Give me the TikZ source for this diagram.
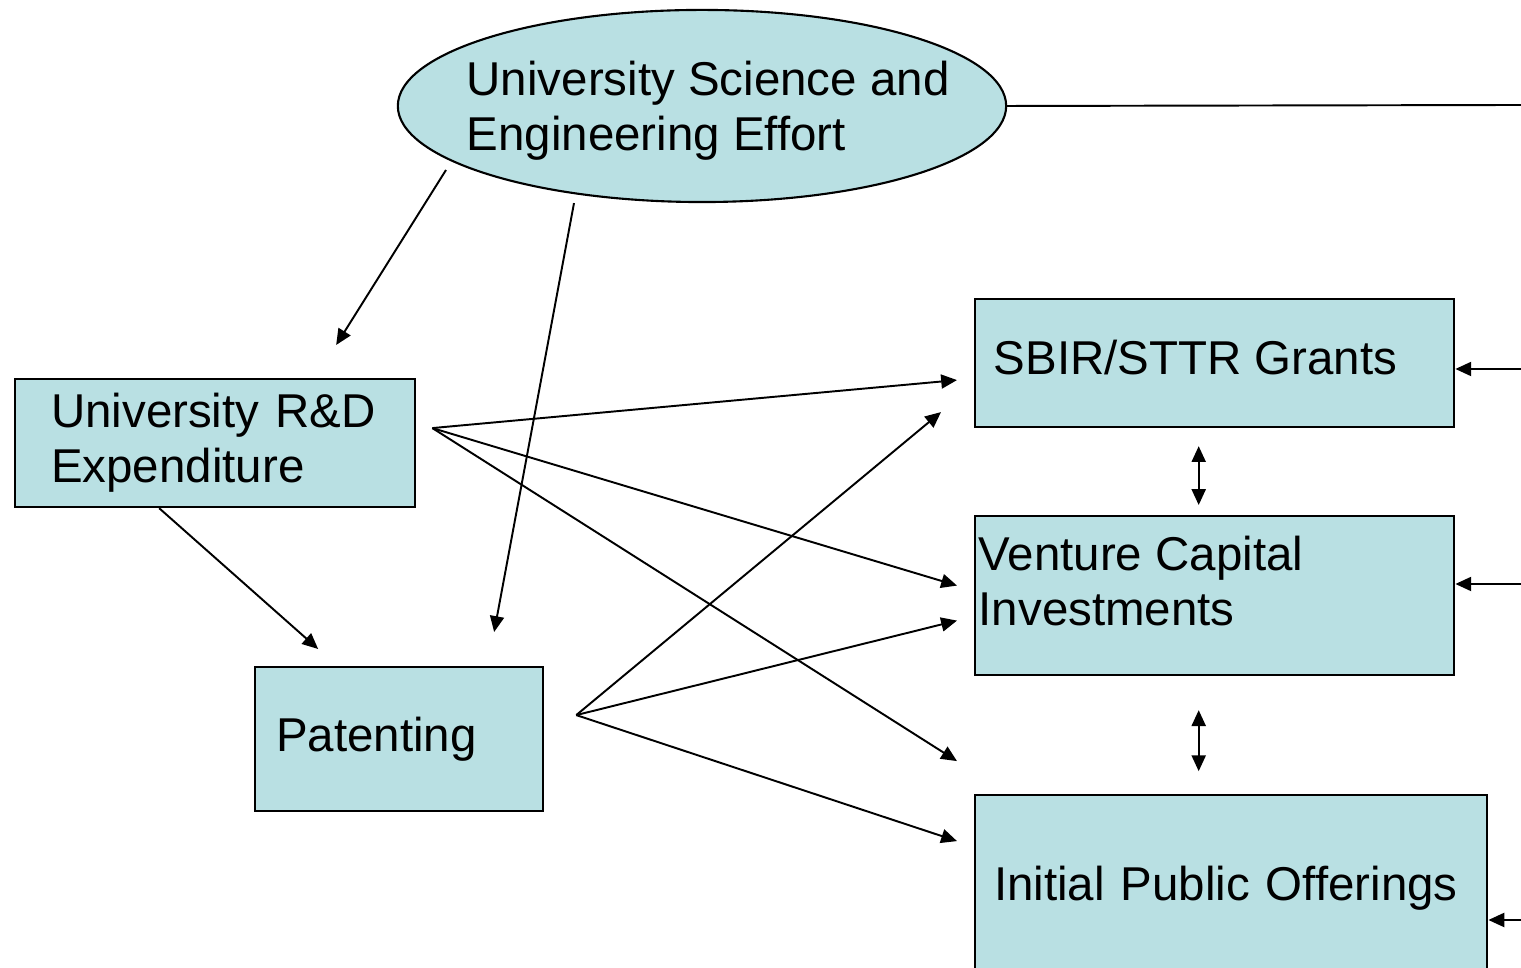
\documentclass[tikz,border=0pt]{standalone}
\usepackage{fontspec}
\setmainfont{Liberation Sans}
\usepackage{tikz}
\usetikzlibrary{arrows.meta,positioning,shapes.geometric,calc}
\definecolor{boxfill}{HTML}{B9E0E3}

\begin{document}
\begin{tikzpicture}[
  x=0.01cm,y=-0.01cm,
  every node/.style={font=\fontsize{13.5}{15.6}\selectfont},
  box/.style={draw,line width=0.6pt,fill=boxfill,anchor=north west,align=left,inner ysep=0pt},
  oval/.style={draw,line width=0.6pt,fill=boxfill,ellipse,inner sep=0pt,minimum width=6.08cm,minimum height=1.92cm},
  txt/.style={anchor=west,align=left,inner sep=0pt},
  arr/.style={-{Triangle[length=4.5pt,width=4pt]},line width=0.55pt},
  dbl/.style={{Triangle[length=4.5pt,width=4pt]}-{Triangle[length=4.5pt,width=4pt]},line width=0.55pt},
  line/.style={line width=0.55pt}
]
\useasboundingbox (0,0) rectangle (1521,968);

\node[oval] (effort) at (702,106) {};
\node[txt] (effortText) at (466,111) {University Science and\\Engineering Effort};

\node[box,minimum width=4cm,minimum height=1.28cm,text width=3.28cm,inner xsep=0.36cm] (rd) at (14,378) {University R\&D\\Expenditure};
\node[box,minimum width=2.88cm,minimum height=1.44cm,text width=2.46cm,inner xsep=0.21cm] (pat) at (254,666) {Patenting};

\node[box,minimum width=4.79cm,minimum height=1.28cm] (sbir) at (974,298) {};
\node[txt] (sbirText) at (993,358) {SBIR/STTR Grants};
\node[box,minimum width=4.79cm,minimum height=1.59cm] (vc) at (974,515) {};
\node[txt] (vcText) at (978,581) {Venture Capital\\Investments};
\node[box,minimum width=5.12cm,minimum height=1.86cm,text width=4.74cm,inner xsep=0.19cm] (ipo) at (974,794) {Initial Public Offerings};

\coordinate (rdOut) at ($(rd.east)+(16,-15)$);
\coordinate (patOut) at ($(pat.east)+(32,-24)$);
\coordinate (edgeTop) at (1521,105);
\coordinate (edgeSbir) at (1521,369);
\coordinate (edgeVc) at (1521,584);
\coordinate (edgeIpo) at (1521,920);

\draw[line] (effort.east) -- (edgeTop);
\draw[arr] ($(effort.center)+(-256,64)$) -- ($(rd.north)+(121,-33)$);
\draw[arr] ($(effort.south)+(-128,0)$) -- ($(pat.north)+(95,-34)$);
\draw[arr] ($(rd.south)+(-56,0)$) -- ($(pat.north)+(-81,-17)$);

\draw[arr] (rdOut) -- ($(sbir.west)+(-17,17)$);
\draw[arr] (rdOut) -- ($(vc.west)+(-17,-10)$);
\draw[arr] (rdOut) -- ($(ipo.west)+(-17,-127)$);
\draw[arr] (patOut) -- ($(sbir.west)+(-33,49)$);
\draw[arr] (patOut) -- ($(vc.west)+(-17,25)$);
\draw[arr] (patOut) -- ($(ipo.west)+(-17,-47)$);

\draw[dbl] ($(sbir.south)+(-16,18)$) -- ($(vc.north)+(-16,-10)$);
\draw[dbl] ($(vc.south)+(-16,34)$) -- ($(vc.south)+(-16,95)$);

\draw[arr] (edgeSbir) -- (edgeSbir -| sbir.east);
\draw[arr] (edgeVc) -- (edgeVc -| vc.east);
\draw[arr] (edgeIpo) -- (edgeIpo -| ipo.east);
\end{tikzpicture}
\end{document}
